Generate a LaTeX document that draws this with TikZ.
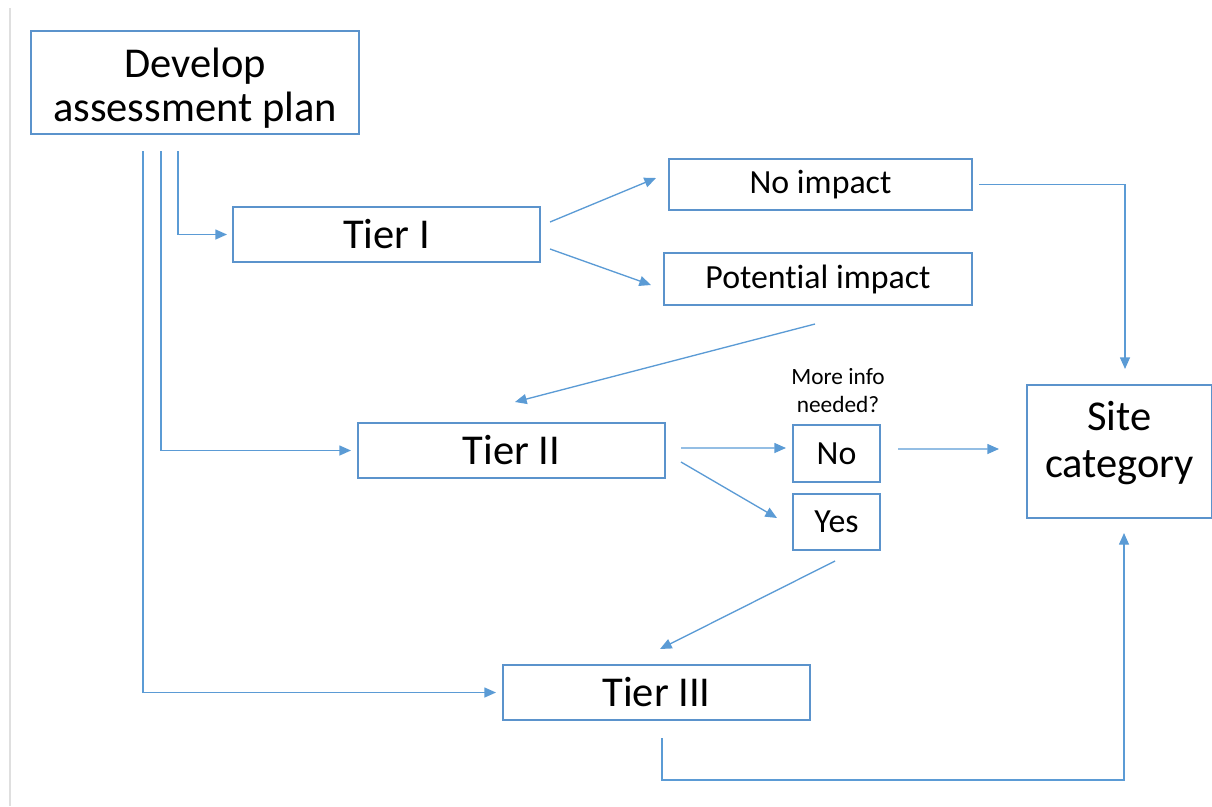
\documentclass[tikz,border=0pt]{standalone}
\usepackage{fontspec}
\setmainfont{Carlito}[Ligatures=NoCommon]
\usetikzlibrary{arrows.meta}
\definecolor{boxblue}{HTML}{5B93CC}
\definecolor{linkblue}{HTML}{5B9BD5}
\begin{document}
\begin{tikzpicture}[x=0.6pt,y=-0.6pt,
  box/.style={draw=boxblue,line width=1.2pt,inner sep=0pt,align=center},
  bigtext/.style={font=\fontsize{25.5}{26.4}\selectfont},
  midtext/.style={font=\fontsize{20.3}{22}\selectfont},
  link/.style={draw=linkblue,line width=0.8pt,-{Triangle[length=7pt,width=6pt]}}]
\useasboundingbox (0,0) rectangle (1212,806);
\draw [gray!25,line width=0.8pt] (10,8) -- (10,806);
\node [box,bigtext,minimum width=196.8pt,minimum height=61.8pt] (dev) at (195,82.5) {\rule{0pt}{24pt}Develop\\assessment plan};
\node [box,bigtext,minimum width=184.2pt,minimum height=33pt] (t1) at (386.5,234.5) {Tier I};
\node [box,midtext,minimum width=181.8pt,minimum height=30.6pt] (noimp) at (820.5,184.5) {No impact};
\node [box,midtext,minimum width=184.8pt,minimum height=31.2pt] (potimp) at (818,279) {Potential impact};
\node [box,bigtext,minimum width=184.2pt,minimum height=33pt] (t2) at (511.5,450.5) {Tier II};
\node [align=center,font=\fontsize{14}{16.8}\selectfont] (info) at (838,391) {More info\\needed?};
\node [box,midtext,minimum width=52.2pt,minimum height=34.2pt] (no) at (836.5,453.5) {No};
\node [box,midtext,minimum width=52.2pt,minimum height=33.6pt] (yes) at (836.5,522) {Yes};
\node [box,font=\fontsize{25.5}{28.2}\selectfont,minimum width=111pt,minimum height=79.8pt] (site) at (1119.5,451.5) {Site\\category\rule[-15pt]{0pt}{0pt}};
\node [box,bigtext,minimum width=184.2pt,minimum height=33pt] (t3) at (656.5,692.5) {Tier III};
\draw [link] ([xshift=-10.2pt,yshift=-9.6pt]dev.south) |- ([xshift=-3pt]t1.west);
\draw [link] ([xshift=-20.4pt,yshift=-9.6pt]dev.south) |- ([xshift=-3.6pt]t2.west);
\draw [link] ([xshift=-31.2pt,yshift=-9.6pt]dev.south) |- ([xshift=-3.6pt]t3.west);
\draw [link] ([xshift=5.4pt,yshift=7.5pt]t1.east) -- ([xshift=-7.2pt,yshift=3.9pt]noimp.west);
\draw [link] ([xshift=5.4pt,yshift=-8.7pt]t1.east) -- ([xshift=-7.2pt,yshift=-3.6pt]potimp.west);
\draw [link] ([xshift=-1.8pt,yshift=-10.8pt]potimp.south) -- ([xshift=2.1pt,yshift=12pt]t2.north);
\draw [link] ([xshift=3.6pt]noimp.east) -| ([xshift=3.3pt,yshift=9pt]site.north);
\draw [link] ([xshift=9pt,yshift=1.5pt]t2.east) -- ([xshift=-3.6pt,yshift=3.3pt]no.west);
\draw [link] ([xshift=9pt,yshift=-6.9pt]t2.east) -- ([xshift=-9pt,yshift=2.4pt]yes.west);
\draw [link] ([xshift=10.2pt,yshift=2.7pt]no.east) -- ([xshift=-16.2pt,yshift=1.5pt]site.west);
\draw [link] ([xshift=-0.9pt,yshift=-6pt]yes.south) -- ([xshift=2.1pt,yshift=9pt]t3.north);
\draw [link] ([xshift=3.3pt,yshift=-10.2pt]t3.south) -- ++(0,42) -| ([xshift=2.7pt,yshift=-8.4pt]site.south);
\end{tikzpicture}
\end{document}
